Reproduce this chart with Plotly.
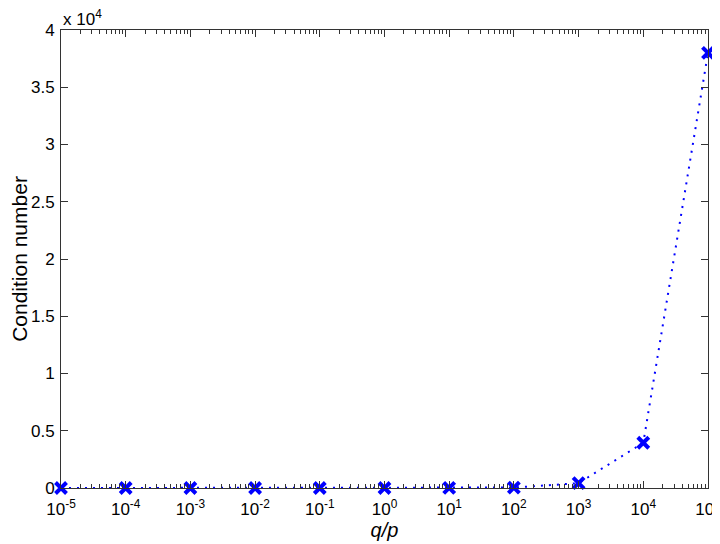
import plotly.graph_objects as go

ratio = [1e-5, 1e-4, 1e-3, 1e-2, 1e-1, 1e0, 1e1, 1e2, 1e3, 1e4, 1e5]
cond = [1, 1, 1, 1, 2, 3, 5, 40, 420, 3950, 38000]
x_tickvals = [1e-5, 1e-4, 1e-3, 1e-2, 1e-1, 1e0, 1e1, 1e2, 1e3, 1e4, 1e5]
x_ticktext = ["10<sup>-5</sup>", "10<sup>-4</sup>", "10<sup>-3</sup>", "10<sup>-2</sup>",
              "10<sup>-1</sup>", "10<sup>0</sup>", "10<sup>1</sup>", "10<sup>2</sup>",
              "10<sup>3</sup>", "10<sup>4</sup>", "10<sup>5</sup>"]
y_tickvals = [0, 5000, 10000, 15000, 20000, 25000, 30000, 35000, 40000]
y_ticktext = ["0", "0.5", "1", "1.5", "2", "2.5", "3", "3.5", "4"]

fig = go.Figure()
fig.add_trace(go.Scatter(
    x=ratio, y=cond, mode="lines+markers",
    line=dict(color="#0000ff", width=2, dash="2px,6px"),
    marker=dict(symbol="x-thin-open", size=11, color="#0000ff",
                line=dict(color="#0000ff", width=4)),
    cliponaxis=False,
))

font = "Liberation Sans, Arial, sans-serif"
fig.update_layout(
    width=712, height=536,
    margin=dict(l=53, r=12, t=22, b=56),
    paper_bgcolor="white", plot_bgcolor="white",
    showlegend=False,
    font=dict(family=font, size=17, color="black"),
    xaxis=dict(
        type="log", range=[-5, 5.0002], automargin=False,
        tickvals=x_tickvals, ticktext=x_ticktext, ticklabeloverflow="allow",
        ticks="inside", ticklen=7, tickcolor="#333", tickwidth=1,
        minor=dict(ticks="inside", ticklen=4, tickcolor="#333", dtick="D1", showgrid=False),
        showline=True, linecolor="#333", linewidth=1, mirror="allticks",
        showgrid=False, zeroline=False,
        title=dict(text="<i>q/p</i>", font=dict(size=20), standoff=3),
        tickfont=dict(size=17), ticklabelstandoff=6,
    ),
    yaxis=dict(
        range=[0, 40000], automargin=False,
        tickvals=y_tickvals, ticktext=y_ticktext,
        ticks="inside", ticklen=7, tickcolor="#333", tickwidth=1,
        showline=True, linecolor="#333", linewidth=1, mirror="allticks",
        showgrid=False, zeroline=False,
        title=dict(text="Condition number", font=dict(size=21), standoff=15),
        tickfont=dict(size=17), ticklabelstandoff=2,
    ),
    annotations=[dict(
        text="x 10<sup>4</sup>", xref="paper", yref="paper", x=0.0, y=1.0,
        xanchor="left", yanchor="bottom", showarrow=False,
        font=dict(size=17, family=font), yshift=-1,
    )],
)

fig.write_html("out.html")
